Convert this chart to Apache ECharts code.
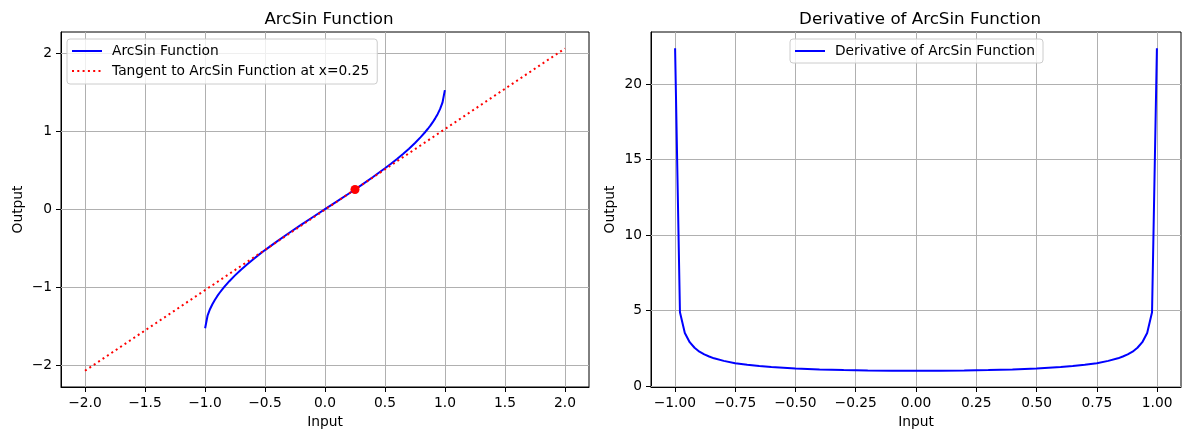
<!DOCTYPE html>
<html>
<head>
<meta charset="utf-8">
<script src="https://cdn.jsdelivr.net/npm/echarts@6/dist/echarts.min.js"></script>
<style>
html,body{margin:0;padding:0;background:#fff;}
#chart{width:1189px;height:440px;}
</style>
</head>
<body>
<div id="chart"></div>
<script>
// ---- data ----
const inputX = [-0.999, -0.9788, -0.9586, -0.9385, -0.9183, -0.8981, -0.8779, -0.8577, -0.8375, -0.7972, -0.75, -0.7, -0.65, -0.6, -0.55, -0.5, -0.4, -0.3, -0.2, -0.1, 0, 0.1, 0.2, 0.3, 0.4, 0.5, 0.55, 0.6, 0.65, 0.7, 0.75, 0.7972, 0.8375, 0.8577, 0.8779, 0.8981, 0.9183, 0.9385, 0.9586, 0.9788, 0.999];
const arcsinY = [-1.526, -1.365, -1.282, -1.218, -1.164, -1.115, -1.071, -1.031, -0.993, -0.923, -0.848, -0.775, -0.708, -0.644, -0.582, -0.524, -0.412, -0.305, -0.201, -0.100, 0, 0.100, 0.201, 0.305, 0.412, 0.524, 0.582, 0.644, 0.708, 0.775, 0.848, 0.923, 0.993, 1.031, 1.071, 1.115, 1.164, 1.218, 1.282, 1.365, 1.526];
const derivY = [22.37, 4.88, 3.51, 2.90, 2.53, 2.27, 2.09, 1.95, 1.83, 1.66, 1.51, 1.40, 1.32, 1.25, 1.20, 1.15, 1.09, 1.05, 1.02, 1.01, 1.00, 1.01, 1.02, 1.05, 1.09, 1.15, 1.20, 1.25, 1.32, 1.40, 1.51, 1.66, 1.83, 1.95, 2.09, 2.27, 2.53, 2.90, 3.51, 4.88, 22.37];
const tangentX = [-2, 2];
const tangentY = [-2.071, 2.060];
const pointX = [0.25];
const pointY = [0.2527];

const leftXTicks = [-2, -1.5, -1, -0.5, 0, 0.5, 1, 1.5, 2];
const leftYTicks = [-2, -1, 0, 1, 2];
const rightXTicks = [-1, -0.75, -0.5, -0.25, 0, 0.25, 0.5, 0.75, 1];
const rightYTicks = [0, 5, 10, 15, 20];

const titles = ['ArcSin Function', 'Derivative of ArcSin Function'];
const seriesNames = ['ArcSin Function', 'Tangent to ArcSin Function at x=0.25', 'Derivative of ArcSin Function'];

// ---- chart ----
const FONT = 'DejaVu Sans';
const minus = s => s.replace('-', '\u2212');
const zip = (a, b) => a.map((v, i) => [v, b[i]]);

function axisCommon(ticks, fmt, extra) {
  return Object.assign({
    type: 'value',
    axisLine: { show: true, onZero: false, lineStyle: { color: '#000', width: 1 } },
    axisTick: { show: true, customValues: ticks, length: 5, inside: false, lineStyle: { color: '#000', width: 1 } },
    axisLabel: { customValues: ticks, formatter: fmt, color: '#000', fontFamily: FONT, fontSize: 13.8, margin: 9 },
    splitLine: { show: false },
    nameTextStyle: { color: '#000', fontFamily: FONT, fontSize: 13.8 },
    nameLocation: 'middle'
  }, extra);
}

function gridLines(xi, yi, xt, yt) {
  return {
    type: 'line', xAxisIndex: xi, yAxisIndex: yi, data: [], silent: true,
    markLine: {
      silent: true, z: 1, symbol: ['none', 'none'], animation: false,
      label: { show: false },
      lineStyle: { color: '#b0b0b0', width: 1, type: 'solid' },
      emphasis: { disabled: true },
      data: xt.map(v => ({ xAxis: v })).concat(yt.map(v => ({ yAxis: v })))
    }
  };
}

const legendCommon = {
  backgroundColor: 'rgba(255,255,255,0.8)',
  borderColor: '#cccccc', borderWidth: 1, borderRadius: 3,
  itemWidth: 30, itemHeight: 14,
  itemStyle: { opacity: 0, borderWidth: 0 },
  textStyle: { color: '#000', fontFamily: FONT, fontSize: 13.8, padding: [0, 0, 0, 5] },
  selectedMode: false
};

const option = {
  animation: false,
  backgroundColor: '#fff',
  title: [
    { text: titles[0], left: 324, top: 6, textAlign: 'center', textStyle: { color: '#000', fontFamily: FONT, fontSize: 16.7, fontWeight: 'normal' } },
    { text: titles[1], left: 915, top: 6, textAlign: 'center', textStyle: { color: '#000', fontFamily: FONT, fontSize: 16.7, fontWeight: 'normal' } }
  ],
  legend: [
    Object.assign({}, legendCommon, { data: [seriesNames[0], seriesNames[1]], orient: 'vertical', left: 67, top: 39, padding: [5, 8, 6, 4], itemGap: 6 }),
    Object.assign({}, legendCommon, { data: [seriesNames[2]], orient: 'horizontal', left: 790, top: 39, padding: [5, 8, 5, 4] })
  ],
  grid: [
    { left: 61, top: 32, width: 528, height: 355, show: true, borderColor: '#000', borderWidth: 1, backgroundColor: 'transparent' },
    { left: 651, top: 32, width: 530, height: 355, show: true, borderColor: '#000', borderWidth: 1, backgroundColor: 'transparent' }
  ],
  xAxis: [
    axisCommon(leftXTicks, v => minus(v.toFixed(1)), { gridIndex: 0, min: -2.2, max: 2.2, name: 'Input', nameGap: 28 }),
    axisCommon(rightXTicks, v => minus(v.toFixed(2)), { gridIndex: 1, min: -1.0989, max: 1.0989, name: 'Input', nameGap: 28 })
  ],
  yAxis: [
    axisCommon(leftYTicks, v => minus(String(v)), { gridIndex: 0, min: -2.279, max: 2.271, name: 'Output', nameGap: 36 }),
    axisCommon(rightYTicks, v => minus(String(v)), { gridIndex: 1, min: -0.069, max: 23.44, name: 'Output', nameGap: 34 })
  ],
  series: [
    gridLines(0, 0, leftXTicks, leftYTicks),
    gridLines(1, 1, rightXTicks, rightYTicks),
    {
      name: seriesNames[0], type: 'line', xAxisIndex: 0, yAxisIndex: 0, z: 3,
      data: zip(inputX, arcsinY), symbol: 'none', showSymbol: false,
      lineStyle: { color: '#0000ff', width: 2 }, itemStyle: { color: '#0000ff' }
    },
    {
      name: seriesNames[1], type: 'line', xAxisIndex: 0, yAxisIndex: 0, z: 4,
      data: zip(tangentX, tangentY), symbol: 'none', showSymbol: false,
      lineStyle: { color: '#ff0000', width: 2, type: [2, 3.3] }, itemStyle: { color: '#ff0000' }
    },
    {
      type: 'scatter', xAxisIndex: 0, yAxisIndex: 0, z: 5,
      data: zip(pointX, pointY), symbolSize: 9, itemStyle: { color: '#ff0000', opacity: 1 }
    },
    {
      name: seriesNames[2], type: 'line', xAxisIndex: 1, yAxisIndex: 1, z: 3,
      data: zip(inputX, derivY), symbol: 'none', showSymbol: false,
      lineStyle: { color: '#0000ff', width: 2 }, itemStyle: { color: '#0000ff' }
    }
  ]
};

const chart = echarts.init(document.getElementById('chart'), null, { renderer: 'canvas' });
chart.setOption(option);
</script>
</body>
</html>
